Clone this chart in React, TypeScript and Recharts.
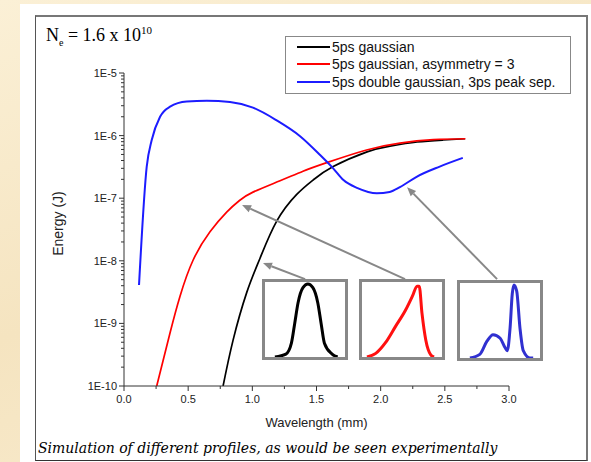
import React from "react";
import { LineChart, Line, XAxis, YAxis, Legend, ReferenceLine } from "recharts";

// series
const seriesNames = [
  "5ps gaussian",
  "5ps gaussian, asymmetry = 3",
  "5ps double gaussian, 3ps peak sep.",
];
const seriesColors = ["#000000", "#ff0000", "#1c1cff"];
const seriesCurves = ["natural", "natural", "monotone"] as const;

const gaussWl = [0.772, 0.85, 0.956, 1.06, 1.19, 1.346, 1.473, 1.63, 1.894, 2.073, 2.284, 2.486, 2.658];
const gaussE = [1.0e-10, 5.4e-10, 3.1e-9, 1.1e-8, 4.3e-8, 1.15e-7, 1.95e-7, 3.2e-7, 5.5e-7, 6.8e-7, 7.9e-7, 8.5e-7, 8.9e-7];

const asymWl = [0.255, 0.359, 0.436, 0.538, 0.67, 0.8, 0.9, 1.005, 1.216, 1.395, 1.58, 1.89, 2.15, 2.41, 2.66];
const asymE = [1.0e-10, 7.1e-10, 2.7e-9, 1.02e-8, 2.9e-8, 6.0e-8, 9.2e-8, 1.25e-7, 1.9e-7, 2.7e-7, 3.7e-7, 5.9e-7, 7.6e-7, 8.6e-7, 8.9e-7];

const doubleWl = [0.117, 0.177, 0.216, 0.281, 0.359, 0.489, 0.645, 0.826, 1.005, 1.19, 1.372, 1.528, 1.63, 1.71, 1.82, 1.97, 2.07, 2.15, 2.28, 2.46, 2.64];
const doubleE = [4.1e-9, 3.2e-7, 8.5e-7, 2.0e-6, 2.9e-6, 3.5e-6, 3.6e-6, 3.45e-6, 2.8e-6, 1.75e-6, 9.8e-7, 4.9e-7, 3.0e-7, 1.95e-7, 1.45e-7, 1.2e-7, 1.26e-7, 1.5e-7, 2.2e-7, 3.2e-7, 4.4e-7];

// axes
const yMajorTicks = [1e-10, 1e-9, 1e-8, 1e-7, 1e-6, 1e-5];
const yTickLabels = ["1E-10", "1E-9", "1E-8", "1E-7", "1E-6", "1E-5"];
const yMinorSteps = [2, 3, 4, 5, 6, 7, 8, 9];
const xTicks = [0, 0.25, 0.5, 0.75, 1, 1.25, 1.5, 1.75, 2, 2.25, 2.5, 2.75, 3];
const xTickLabels = ["0.0", "", "0.5", "", "1.0", "", "1.5", "", "2.0", "", "2.5", "", "3.0"];

// arrows from the inset boxes to the curves (tail -> head)
const arrowTailWl = [1.411, 2.19, 2.907];
const arrowTailE = [5.1e-9, 5.1e-9, 5.1e-9];
const arrowHeadWl = [1.083, 0.92, 2.206];
const arrowHeadE = [9.2e-9, 7.8e-8, 1.5e-7];

// inset pulse shapes (time in ps, normalised intensity)
const gaussPulseT = [0.9, 1.9, 2.4, 2.7, 3.0, 3.45, 3.9, 4.35, 4.8, 5.1, 5.4, 6.1, 6.6];
const gaussPulseV = [0, 0.04, 0.19, 0.46, 0.74, 0.95, 1.0, 0.95, 0.74, 0.46, 0.19, 0.04, 0];
const asymPulseT = [0.45, 1.25, 2.15, 3.05, 3.95, 4.6, 5.0, 5.2, 5.45, 5.8, 6.25, 6.55];
const asymPulseV = [0, 0.05, 0.2, 0.42, 0.64, 0.84, 0.97, 0.97, 0.6, 0.23, 0.03, 0];
const doublePulseT = [0.9, 1.8, 2.45, 3.0, 3.65, 4.1, 4.3, 4.55, 4.75, 4.9, 5.15, 5.45, 5.75, 6.35, 6.65];
const doublePulseV = [0, 0.05, 0.23, 0.32, 0.27, 0.14, 0.1, 0.41, 0.88, 1.0, 0.92, 0.41, 0.1, 0, 0];

const sans = "'Liberation Sans', Arial, sans-serif";
const axisColor = "#333";

const yTicks = [
  ...yMajorTicks,
  ...yMajorTicks.slice(0, -1).flatMap((d) => yMinorSteps.map((m) => m * d)),
].sort((a, b) => a - b);

const toPoints = (w: number[], e: number[]) => w.map((x, i) => ({ w: x, e: e[i] }));
const seriesData = [
  toPoints(gaussWl, gaussE),
  toPoints(asymWl, asymE),
  toPoints(doubleWl, doubleE),
];

function YTick(props: any) {
  const { x, y, payload } = props;
  const i = yMajorTicks.indexOf(payload.value);
  const major = i >= 0;
  return (
    <g>
      <line x1={x - (major ? 5 : 3)} x2={x} y1={y} y2={y} stroke={axisColor} strokeWidth={1} />
      {major && (
        <text x={x - 7} y={y} dy={4} textAnchor="end" fontSize={11} fontFamily={sans} fill="#222">
          {yTickLabels[i]}
        </text>
      )}
    </g>
  );
}

function XTick(props: any) {
  const { x, y, index } = props;
  const label = xTickLabels[index] ?? "";
  return (
    <g>
      <line x1={x} x2={x} y1={y} y2={y + (label ? 5 : 3)} stroke={axisColor} strokeWidth={1} />
      {label && (
        <text x={x} y={y + 17} textAnchor="middle" fontSize={11} fontFamily={sans} fill="#222">
          {label}
        </text>
      )}
    </g>
  );
}

function YTitle(props: any) {
  const { x, y, height } = props.viewBox;
  const cy = y + height / 2 - 6;
  return (
    <text
      x={x}
      y={cy}
      transform={`rotate(-90 ${x} ${cy})`}
      textAnchor="middle"
      dominantBaseline="central"
      fontSize={14}
      fontFamily={sans}
      fill="#222"
    >
      Energy (J)
    </text>
  );
}

function ArrowShape(props: any) {
  const { x1, y1, x2, y2 } = props;
  const a = Math.atan2(y2 - y1, x2 - x1);
  const len = 9;
  const half = 3.8;
  const bx = x2 - len * Math.cos(a);
  const by = y2 - len * Math.sin(a);
  const pts = `${x2},${y2} ${bx + half * Math.sin(a)},${by - half * Math.cos(a)} ${bx - half * Math.sin(a)},${by + half * Math.cos(a)}`;
  return (
    <g>
      <line x1={x1} y1={y1} x2={bx} y2={by} stroke="#888" strokeWidth={2} />
      <polygon points={pts} fill="#888" />
    </g>
  );
}

function LegendBox() {
  return (
    <div
      style={{
        width: 286,
        height: 58,
        boxSizing: "border-box",
        border: "1px solid #888",
        background: "#fff",
        padding: "1px 0 0 11px",
        fontFamily: sans,
        fontSize: 14,
        color: "#111",
      }}
    >
      {seriesNames.map((n, i) => (
        <div key={n} style={{ display: "flex", alignItems: "center", height: 17.5 }}>
          <span style={{ width: 33, height: 2, background: seriesColors[i], marginRight: 2 }} />
          <span>{n}</span>
        </div>
      ))}
    </div>
  );
}

function Inset({ t, v, color, left, top }: { t: number[]; v: number[]; color: string; left: number; top: number }) {
  const data = t.map((x, i) => ({ t: x, v: v[i] }));
  return (
    <div
      style={{
        position: "absolute",
        left,
        top,
        width: 86,
        height: 81,
        boxSizing: "border-box",
        border: "3px solid #888",
        background: "#fff",
      }}
    >
      <LineChart width={80} height={75} data={data} margin={{ top: 2, right: 0, bottom: 0, left: 0 }}>
        <XAxis dataKey="t" type="number" domain={[0, 7.27]} hide />
        <YAxis type="number" domain={[0, 1]} hide />
        <Line dataKey="v" type="monotone" stroke={color} strokeWidth={3} dot={false} isAnimationActive={false} />
      </LineChart>
    </div>
  );
}

export default function App() {
  return (
    <div
      style={{
        position: "absolute",
        left: 0,
        top: 0,
        width: 591,
        height: 462,
        overflow: "hidden",
        background: "linear-gradient(160deg, #fbf0d6 0%, #f5e4c0 50%, #f9ecd0 100%)",
      }}
    >
      <div style={{ position: "absolute", left: 20, top: 4, right: 0, bottom: 0, background: "#fff" }} />
      <div
        style={{
          position: "absolute",
          left: 35,
          top: 15,
          width: 553,
          height: 446,
          boxSizing: "border-box",
          borderTop: "2px solid #777",
          borderLeft: "1px solid #555",
          borderRight: "2px solid #777",
          borderBottom: "1px solid #333",
        }}
      />
      <div style={{ position: "absolute", left: 0, top: 0 }}>
        <LineChart width={591} height={462} margin={{ top: 73, right: 82, bottom: 32, left: 58 }}>
          <XAxis
            dataKey="w"
            type="number"
            domain={[0, 3]}
            ticks={xTicks}
            interval={0}
            tickSize={0}
            tickMargin={0}
            tickLine={false}
            tick={<XTick />}
            axisLine={{ stroke: axisColor }}
            height={44}
            allowDuplicatedCategory={false}
            label={{ value: "Wavelength (mm)", position: "insideBottom", offset: 3, fontSize: 13, fontFamily: sans, fill: "#222" }}
          />
          <YAxis
            type="number"
            scale="log"
            domain={[1e-10, 1e-5]}
            allowDataOverflow
            ticks={yTicks}
            interval={0}
            tickSize={0}
            tickMargin={0}
            tickLine={false}
            tick={<YTick />}
            axisLine={{ stroke: axisColor }}
            width={66}
            label={{ content: <YTitle /> }}
          />
          {seriesData.map((d, i) => (
            <Line
              key={seriesNames[i]}
              data={d}
              dataKey="e"
              name={seriesNames[i]}
              type={seriesCurves[i]}
              stroke={seriesColors[i]}
              strokeWidth={i === 2 ? 2 : 1.7}
              dot={false}
              isAnimationActive={false}
            />
          ))}
          {arrowTailWl.map((w, i) => (
            <ReferenceLine
              key={i}
              segment={[
                { x: w, y: arrowTailE[i] },
                { x: arrowHeadWl[i], y: arrowHeadE[i] },
              ]}
              shape={ArrowShape}
            />
          ))}
          <Legend
            layout="vertical"
            align="center"
            verticalAlign="middle"
            wrapperStyle={{ position: "absolute", left: 285, top: 36, width: 286, height: 58 }}
            content={() => <LegendBox />}
          />
        </LineChart>
      </div>
      <Inset t={gaussPulseT} v={gaussPulseV} color="#000" left={262} top={279} />
      <Inset t={asymPulseT} v={asymPulseV} color="#ff1010" left={359} top={279} />
      <Inset t={doublePulseT} v={doublePulseV} color="#3030d0" left={457} top={280} />
      <div
        style={{
          position: "absolute",
          left: 46,
          top: 24,
          fontFamily: "'Liberation Serif', 'Times New Roman', serif",
          fontSize: 18,
          color: "#000",
          whiteSpace: "nowrap",
        }}
      >
        N<sub style={{ fontSize: 10 }}>e</sub> = 1.6 x 10<sup style={{ fontSize: 11 }}>10</sup>
      </div>
      <div
        style={{
          position: "absolute",
          left: 38,
          top: 440,
          fontFamily: "'DejaVu Serif', serif",
          fontStyle: "italic",
          fontSize: 14,
          color: "#000",
          whiteSpace: "nowrap",
        }}
      >
        Simulation of different profiles, as would be seen experimentally
      </div>
    </div>
  );
}
